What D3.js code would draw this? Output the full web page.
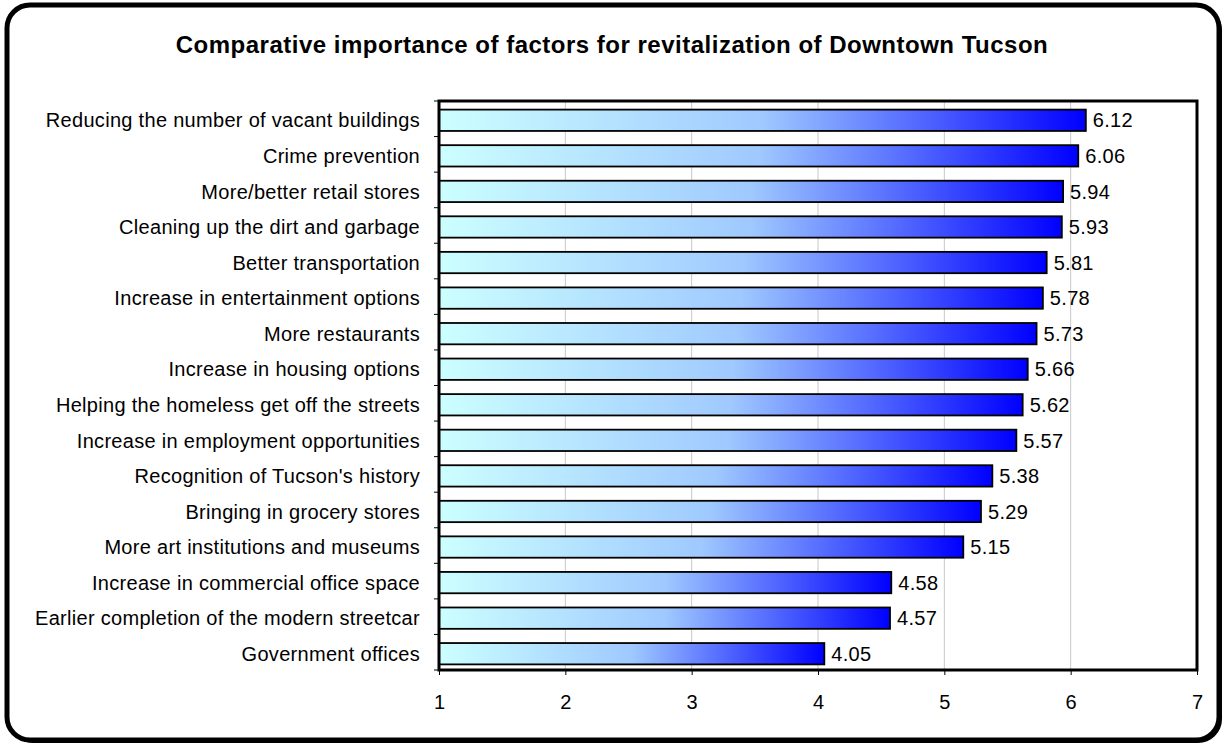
<!DOCTYPE html>
<html><head><meta charset="utf-8">
<script src="https://cdn.jsdelivr.net/npm/d3@7"></script>
<style>body{margin:0;background:#fff}svg{display:block}text{font-family:"Liberation Sans",Arial,sans-serif;fill:#000}</style>
</head><body>
<svg id="c" width="1225" height="746"></svg>
<script>
const title = "Comparative importance of factors for revitalization of Downtown Tucson";
const categories = [
  "Reducing the number of vacant buildings",
  "Crime prevention",
  "More/better retail stores",
  "Cleaning up the dirt and garbage",
  "Better transportation",
  "Increase in entertainment options",
  "More restaurants",
  "Increase in housing options",
  "Helping the homeless get off the streets",
  "Increase in employment opportunities",
  "Recognition of Tucson's history",
  "Bringing in grocery stores",
  "More art institutions and museums",
  "Increase in commercial office space",
  "Earlier completion of the modern streetcar",
  "Government offices"
];
const values = [6.12, 6.06, 5.94, 5.93, 5.81, 5.78, 5.73, 5.66, 5.62, 5.57, 5.38, 5.29, 5.15, 4.58, 4.57, 4.05];
const xTicks = [1, 2, 3, 4, 5, 6, 7];

const svg = d3.select("#c");
const plot = {left: 439, right: 1197, top: 101, bottom: 670};

// frame with shadow
svg.append("rect").attr("x", 9).attr("y", 6).attr("width", 1213).attr("height", 737)
  .attr("rx", 24).attr("fill", "#000");
svg.append("rect").attr("x", 7).attr("y", 5).attr("width", 1212).attr("height", 735)
  .attr("rx", 23).attr("fill", "#fff").attr("stroke", "#000").attr("stroke-width", 5);

svg.append("text").attr("x", 612).attr("y", 53).attr("text-anchor", "middle")
  .style("font-size", "24px").style("font-weight", "bold").style("letter-spacing", "0.5px").text(title);

const defs = svg.append("defs");
const grad = defs.append("linearGradient").attr("id", "g").attr("x1", 0).attr("x2", 1).attr("y1", 0).attr("y2", 0);
grad.append("stop").attr("offset", "0%").attr("stop-color", "#ccffff");
grad.append("stop").attr("offset", "50%").attr("stop-color", "#9fc9ff");
grad.append("stop").attr("offset", "100%").attr("stop-color", "#0000ff");

const x = d3.scaleLinear().domain([1, 7]).range([plot.left, plot.right]);
const y = d3.scaleBand().domain(categories).range([plot.top, plot.bottom]).paddingInner(0.4).paddingOuter(0.2);

// gridlines
svg.append("g").selectAll("line").data(xTicks.slice(1, -1)).join("line")
  .attr("x1", d => x(d)).attr("x2", d => x(d)).attr("y1", plot.top).attr("y2", plot.bottom)
  .attr("stroke", "#c8c8c8").attr("stroke-width", 1);

// bars
const data = categories.map((c, i) => ({c, v: values[i]}));
svg.append("g").selectAll("rect").data(data).join("rect")
  .attr("x", x(1)).attr("y", d => y(d.c) + 1.5)
  .attr("width", d => x(d.v) - x(1)).attr("height", y.bandwidth())
  .attr("fill", "url(#g)").attr("stroke", "#000").attr("stroke-width", 1.8);

// value labels
svg.append("g").selectAll("text").data(data).join("text")
  .attr("x", d => x(d.v) + 7).attr("y", d => y(d.c) + 1.5 + y.bandwidth() / 2)
  .attr("dy", "0.36em").style("font-size", "20px").style("letter-spacing", "0.3px").text(d => d.v.toFixed(2));

// plot border
svg.append("rect").attr("x", plot.left).attr("y", plot.top)
  .attr("width", plot.right - plot.left).attr("height", plot.bottom - plot.top)
  .attr("fill", "none").attr("stroke", "#000").attr("stroke-width", 3);

// y axis ticks at band boundaries
const bounds = d3.range(categories.length + 1).map(i => plot.top + i * y.step());
svg.append("g").selectAll("line").data(bounds).join("line")
  .attr("x1", plot.left - 5).attr("x2", plot.left).attr("y1", d => d).attr("y2", d => d)
  .attr("stroke", "#000").attr("stroke-width", 1);
svg.append("g").selectAll("text").data(categories).join("text")
  .attr("x", 420).attr("y", d => y(d) + y.bandwidth() / 2 + 1.5).attr("dy", "0.36em")
  .attr("text-anchor", "end").style("font-size", "20px").style("letter-spacing", "0.3px").text(d => d);

// x axis
const xa = svg.append("g").attr("transform", `translate(0,${plot.bottom})`)
  .call(d3.axisBottom(x).tickValues(xTicks).tickSize(5).tickFormat(d3.format("d")));
xa.select(".domain").remove();
xa.selectAll("line").attr("stroke", "#000");
xa.selectAll("text").attr("y", 32).attr("dy", "0.36em").style("font-size", "20px")
  .style("font-family", "'Liberation Sans',Arial,sans-serif").attr("fill", "#000");
</script>
</body></html>
